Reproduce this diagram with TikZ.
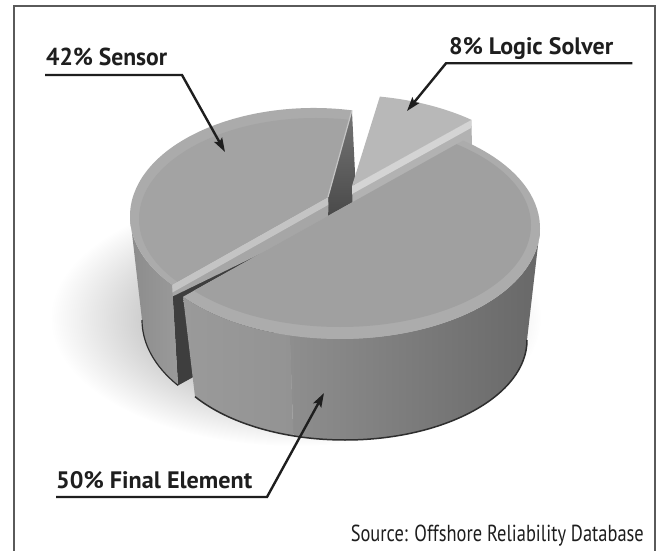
\documentclass[tikz,border=0pt]{standalone}
\usepackage{fontspec}
\setmainfont{PT Sans}
\usepackage{graphicx}
\usetikzlibrary{calc,arrows.meta,fadings}

\definecolor{ink}{HTML}{1E1E1E}
\definecolor{frameGray}{HTML}{5A5A5A}
\definecolor{sensorFace}{HTML}{A3A3A3}
\definecolor{sensorRim}{HTML}{ABABAB}
\definecolor{logicFace}{HTML}{B8B8B8}
\definecolor{logicCut}{HTML}{B2B2B2}
\definecolor{logicBevel}{HTML}{D4D4D4}
\definecolor{finalFace}{HTML}{A0A0A0}
\definecolor{finalRim}{HTML}{ACACAC}
\definecolor{bevelLight}{HTML}{C4C4C4}
\definecolor{cutMid}{HTML}{A6A6A6}
\definecolor{cutDark}{HTML}{3E3E3E}
\definecolor{wedgeTop}{HTML}{767676}
\definecolor{wedgeBot}{HTML}{262626}
\definecolor{sWallL}{HTML}{8C8C8C}
\definecolor{sWallR}{HTML}{9A9A9A}
\definecolor{fWallA}{HTML}{9A9A9A}
\definecolor{fWallB}{HTML}{939393}
\definecolor{fWallC}{HTML}{8E8E8E}
\definecolor{fWallD}{HTML}{858585}
\definecolor{fWallE}{HTML}{686868}
\definecolor{baseEdge}{HTML}{2E2E2E}

\tikzfading[name=softshadow, inner color=transparent!50, outer color=transparent!100]

\begin{document}
\begin{tikzpicture}[x=1pt, y=-1pt,
  lbltext/.style={inner sep=0pt, anchor=base west, font=\bfseries, text=ink},
  lblarrow/.style={draw=ink, line width=2.4pt, line join=miter,
    -{Stealth[length=14pt, width=9pt, inset=2.5pt]}}]
\useasboundingbox (0,0) rectangle (662,551);
\fill[white] (0,0) rectangle (662,551);

% ---------- geometry of the three slices ----------
% sensor (42%)
\coordinate (Stc) at (314,216);
\coordinate (Sbc) at (318,320);
\coordinate (Sv)  at (328,197);
\coordinate (Svb) at (333,300);
\coordinate (S1)  at ($(Stc)+(-78.1:184 and 108)$);
\coordinate (S1b) at (357,213);
\coordinate (S2)  at ($(Stc)+(140.5:184 and 108)$);
\coordinate (S2b) at ($(Sbc)+(142.7:176 and 108)$);
\coordinate (Sl)  at ($(Stc)+(180:184 and 108)$);
% logic solver (8%)
\coordinate (Ltc) at (346,201);
\coordinate (Lv)  at (352,186);
\coordinate (Lvb) at (355,290);
\coordinate (L1)  at ($(Ltc)+(-80:195 and 106)$);
\coordinate (L2)  at ($(Ltc)+(-50:195 and 106)$);
\coordinate (L2b) at (474,225);
% final element (50%)
\coordinate (Ftc) at (340,228);
\coordinate (Fbc) at (345,340);
\coordinate (A)   at ($(Ftc)+(141.7:200 and 111)$);
\coordinate (B)   at ($(Ftc)+(-52:200 and 111)$);
\coordinate (Fm)  at ($(Ftc)+(104.5:200 and 111)$);
\coordinate (Fmb) at ($(Fbc)+(106.5:182 and 100)$);
\coordinate (Frb) at ($(Fbc)+(0:182 and 100)$);

% soft shadow under the pie
\fill[black, path fading=softshadow] (296,318) ellipse[x radius=245, y radius=128];

% ---------- sensor ----------
\shade[top color=wedgeTop, bottom color=wedgeBot] (S1) -- (Sv) -- (Svb) -- (S1b) -- cycle;
\fill[cutDark] (S2) -- (Sv) -- (Svb) -- (S2b) -- cycle;
\fill[cutMid] (S2) -- (Sv) -- ($(Sv)+(0,24)$) -- ($(S2)+(0,12)$) -- cycle;
\fill[bevelLight] (S2) -- (Sv) -- ($(Sv)+(0,8)$) -- ($(S2)+(0,8)$) -- cycle;
\shade[left color=sWallL, right color=sWallR]
  (Sl) arc[start angle=180, end angle=140.5, x radius=184, y radius=108]
  -- (S2b) arc[start angle=142.7, end angle=180, x radius=176, y radius=108] -- cycle;
\draw[baseEdge, line width=1.2pt]
  (S2b) arc[start angle=142.7, end angle=180, x radius=176, y radius=108];
\fill[sensorRim] (Sv) -- (S1)
  arc[start angle=-78.1, end angle=-219.5, x radius=184, y radius=108] -- cycle;
\begin{scope}
  \clip (Sv) -- (S1)
    arc[start angle=-78.1, end angle=-219.5, x radius=184, y radius=108] -- cycle;
  \fill[sensorFace] (316,219) ellipse[x radius=177, y radius=101];
\end{scope}
\draw[bevelLight, line width=1.2pt] (S1) -- (Sv);

% ---------- logic solver ----------
\fill[logicCut] (Lv) -- (L2) -- (L2b) -- (Lvb) -- cycle;
\fill[logicBevel] (Lv) -- (L2) -- ($(L2)+(0,8)$) -- ($(Lv)+(0,8)$) -- cycle;
\fill[logicFace] (Lv) -- (L2)
  arc[start angle=-50, end angle=-80, x radius=195, y radius=106] -- cycle;

% ---------- final element ----------
\shade[left color=fWallA, right color=fWallB]
  (A) arc[start angle=141.7, end angle=104.5, x radius=200, y radius=111]
  -- (Fmb) arc[start angle=106.5, end angle=145.5, x radius=182, y radius=100] -- cycle;
\shade[left color=fWallC, middle color=fWallD, right color=fWallE]
  (Fm) arc[start angle=104.5, end angle=0, x radius=200, y radius=111]
  -- (Frb) arc[start angle=0, end angle=106.5, x radius=182, y radius=100] -- cycle;
\draw[baseEdge, line width=1.5pt]
  (Frb) arc[start angle=0, end angle=145.5, x radius=182, y radius=100];
\fill[finalRim] (B)
  arc[start angle=-52, end angle=141.7, x radius=200, y radius=111] -- cycle;
\begin{scope}
  \clip (B) arc[start angle=-52, end angle=141.7, x radius=200, y radius=111] -- cycle;
  \fill[finalFace] (340,225) ellipse[x radius=191, y radius=102];
\end{scope}

% ---------- labels and leaders ----------
\node[lbltext] (sensorLbl) at (46,66) {\resizebox{121pt}{17.5pt}{42\% Sensor}};
\coordinate (sensorBend) at (182,75);
\coordinate (sensorTip) at (225,152);
\draw[lblarrow] ($(sensorLbl.base west)+(-1,9)$) -- (sensorBend) -- (sensorTip);

\node[lbltext] (logicLbl) at (449,55) {\resizebox{164pt}{17pt}{8\% Logic Solver}};
\coordinate (logicBend) at (446,63.3);
\coordinate (logicTip) at (407,111);
\draw[lblarrow] ($(logicLbl.base east)+(19,8.3)$) -- (logicBend) -- (logicTip);

\node[lbltext] (finalLbl) at (56,488) {\resizebox{196pt}{17pt}{50\% Final Element}};
\coordinate (finalBend) at (267,497);
\coordinate (finalTip) at (324,393);
\draw[lblarrow] ($(finalLbl.base west)+(0,9)$) -- (finalBend) -- (finalTip);

\node[inner sep=0pt, anchor=base east, text=ink] (source) at (644,541)
  {\resizebox{293pt}{16.5pt}{Source: Offshore Reliability Database}};

% ---------- frame ----------
\draw[frameGray, line width=1.8pt] (14,560) -- (14,6) -- (655,6) -- (655,560);
\end{tikzpicture}
\end{document}
